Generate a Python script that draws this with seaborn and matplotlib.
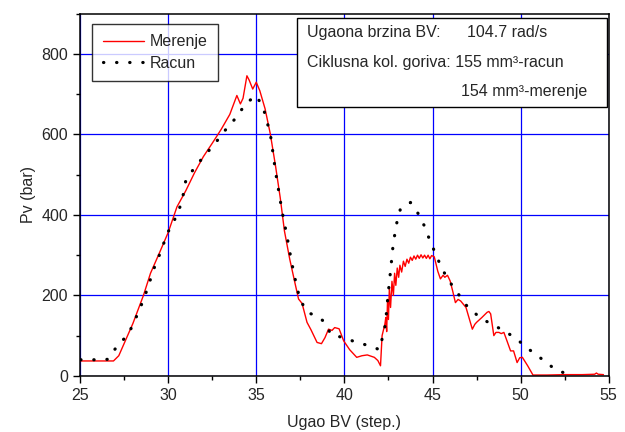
import numpy as np
import pandas as pd
import seaborn as sns
import matplotlib
matplotlib.use("Agg")
import matplotlib.pyplot as plt
from matplotlib.patches import Rectangle
from matplotlib.ticker import MultipleLocator

# measured injection pressure (red)
angle_meas = [25.0, 26.0, 26.9, 27.2, 27.6, 28.0, 28.3, 28.6, 29.0, 29.5, 30.0, 30.5, 31.0,
              31.5, 32.0, 32.5, 33.0, 33.5, 33.9, 34.1, 34.25, 34.47, 34.6, 34.8, 35.0, 35.2,
              35.5, 35.8, 36.1, 36.36, 36.6, 36.9, 37.2, 37.4, 37.6, 37.88, 38.1, 38.45, 38.7,
              38.9, 39.1, 39.3, 39.45, 39.7, 39.96, 40.3, 40.7, 41.0, 41.3, 41.7, 41.9, 42.05,
              42.14, 42.3, 42.35, 42.4, 42.45, 42.5, 42.55, 42.62, 42.7, 42.78, 42.85, 42.92,
              43.0, 43.08, 43.15, 43.25, 43.35, 43.45, 43.55, 43.65, 43.75, 43.85, 43.95, 44.05,
              44.15, 44.25, 44.35, 44.45, 44.55, 44.65, 44.75, 44.85, 44.95, 45.1, 45.3, 45.45,
              45.6, 45.7, 45.85, 46.0, 46.15, 46.3, 46.45, 46.6, 46.75, 46.9, 47.1, 47.26, 47.4,
              47.5, 47.8, 48.1, 48.2, 48.3, 48.48, 48.6, 48.77, 48.9, 49.05, 49.2, 49.43, 49.6,
              49.8, 49.95, 50.1, 50.4, 50.7, 51.5, 52.5, 53.5, 54.2, 54.3, 54.4, 54.7]
p_meas = [37, 37, 37, 50, 90, 130, 165, 200, 255, 305, 356, 420, 460,
          505, 545, 578, 612, 650, 697, 676, 690, 746, 735, 713, 730, 709,
          664, 601, 520, 443, 360, 290, 230, 191, 180, 133, 115, 83, 80,
          95, 116, 113, 120, 117, 87, 65, 46, 50, 52, 46, 38, 25,
          100, 129, 145, 110, 190, 140, 215, 170, 235, 200, 255, 225,
          268, 245, 275, 258, 285, 272, 290, 280, 295, 287, 298, 290,
          300, 292, 301, 293, 300, 292, 300, 291, 299, 296, 260, 241,
          250, 245, 250, 236, 210, 182, 190, 186, 178, 170, 140, 116, 128,
          133, 145, 158, 160, 154, 100, 108, 108, 105, 108, 90, 62, 62,
          33, 45, 46, 25, 2, 2, 3, 3, 4, 7, 4, 3]

# calculated pressure (black dotted)
angle_calc = [25.04, 25.8, 26.55, 27.1, 27.75, 28.1, 28.4, 28.7, 28.94, 29.16, 29.45, 29.73,
              30.0, 30.4, 30.7, 30.87, 31.0, 31.5, 32.1, 32.7, 33.3, 33.9, 34.4, 35.0, 35.4,
              35.8, 36.1, 36.46, 36.74, 37.0, 37.3, 37.5, 37.9, 38.5, 38.9, 39.24, 39.96, 40.7,
              41.4, 42.0, 42.33, 42.46, 42.61, 42.75, 42.86, 42.99, 43.18, 43.75, 44.24, 44.6,
              44.85, 45.17, 45.49, 45.87, 46.36, 46.88, 47.63, 48.39, 49.09, 49.81, 50.53,
              51.29, 51.99, 52.69]
p_calc = [40, 40, 41, 73, 104, 137, 167, 201, 232, 263, 294, 327,
          358, 391, 423, 453, 485, 518, 549, 580, 614, 644, 677, 697, 666,
          601, 506, 410, 348, 284, 221, 188, 158, 147, 133, 102, 95, 83,
          75, 65, 128, 193, 257, 319, 352, 384, 415, 431, 400, 367,
          336, 304, 271, 240, 210, 177, 147, 127, 112, 90, 64,
          39, 15, 4]

info_lines = ["Ugaona brzina BV:", "104.7 rad/s",
              "Ciklusna kol. goriva: 155 mm\u00b3-racun", "154 mm\u00b3-merenje"]

sns.set_style("white")
plt.rcParams['font.family'] = ['Liberation Sans', 'DejaVu Sans']
plt.rcParams['font.size'] = 11.5

df_meas = pd.DataFrame({"angle": angle_meas, "p": p_meas})
df_calc = pd.DataFrame({"angle": angle_calc, "p": p_calc})

fig = plt.figure(figsize=(6.25, 4.32), dpi=100)
ax = fig.add_axes([0.128, 0.130, 0.846, 0.838])

sns.lineplot(data=df_meas, x="angle", y="p", ax=ax, color="red", lw=1.0,
             sort=False, estimator=None, label="Merenje")
sns.lineplot(data=df_calc, x="angle", y="p", ax=ax, color="black", lw=2.3,
             linestyle=(0, (0.1, 4.0)), dash_capstyle="round",
             sort=False, estimator=None, label="Racun")

ax.set_xlim(25, 55)
ax.set_ylim(0, 900)
ax.xaxis.set_major_locator(MultipleLocator(5))
ax.xaxis.set_minor_locator(MultipleLocator(2.5))
ax.yaxis.set_major_locator(MultipleLocator(200))
ax.yaxis.set_minor_locator(MultipleLocator(100))
ax.grid(True, which="major", color="#0000ff", lw=0.9)
ax.set_axisbelow(True)
ax.tick_params(which="major", direction="out", length=5, width=1, color="black",
               labelsize=11.5, left=True, bottom=True)
ax.tick_params(which="minor", direction="out", length=3, width=1, color="black",
               left=True, bottom=True)
for sp in ax.spines.values():
    sp.set_visible(True)
    sp.set_color("black")
    sp.set_linewidth(1.1)

ax.set_xlabel("Ugao BV (step.)", fontsize=11.5, labelpad=9)
ax.set_ylabel("Pv (bar)", fontsize=11.5, labelpad=4)

leg = ax.legend(loc="upper left", bbox_to_anchor=(0.023, 0.972), borderaxespad=0,
                fancybox=False, frameon=True, fontsize=11.5, handlelength=2.6,
                borderpad=0.65, labelspacing=0.4, handletextpad=0.35)
leg.get_frame().set_edgecolor("black")
leg.get_frame().set_linewidth(1.0)

# info box
ax.add_patch(Rectangle((0.410, 0.743), 0.586, 0.246, transform=ax.transAxes,
                       facecolor="white", edgecolor="black", lw=1.0, zorder=5))
ax.text(0.4285, 0.948, info_lines[0], transform=ax.transAxes, va="center", ha="left", zorder=6)
ax.text(0.732, 0.948, info_lines[1], transform=ax.transAxes, va="center", ha="left", zorder=6)
ax.text(0.4285, 0.865, info_lines[2], transform=ax.transAxes, va="center", ha="left", zorder=6)
ax.text(0.960, 0.785, info_lines[3], transform=ax.transAxes, va="center", ha="right", zorder=6)

fig.savefig("out.png", dpi=100)
